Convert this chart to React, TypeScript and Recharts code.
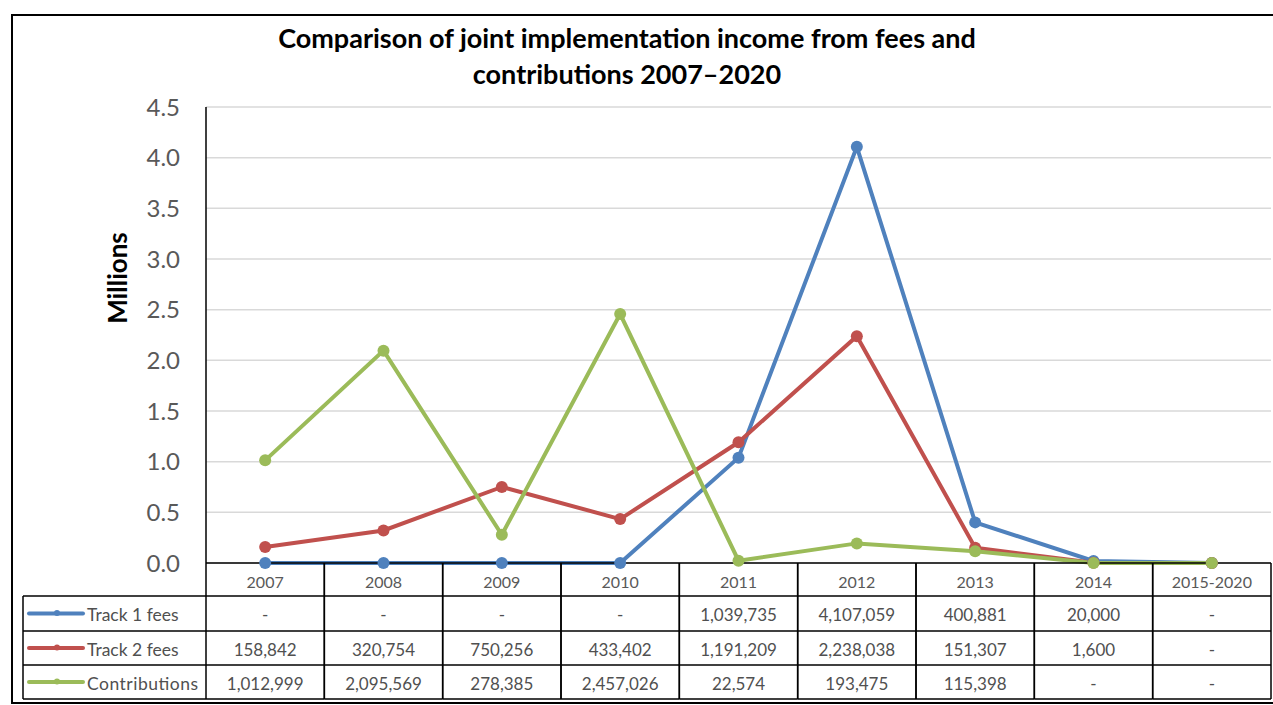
import { CartesianGrid, Line, LineChart, XAxis, YAxis } from "recharts";

const years = ["2007", "2008", "2009", "2010", "2011", "2012", "2013", "2014", "2015-2020"];
const trackOneFees = [0, 0, 0, 0, 1039735, 4107059, 400881, 20000, 0];
const trackTwoFees = [158842, 320754, 750256, 433402, 1191209, 2238038, 151307, 1600, 0];
const contributions = [1012999, 2095569, 278385, 2457026, 22574, 193475, 115398, 0, 0];
const seriesNames = ["Track 1 fees", "Track 2 fees", "Contributions"];
const seriesColors = ["#4F81BD", "#C0504D", "#9BBB59"];
const yTicks = [0, 0.5, 1, 1.5, 2, 2.5, 3, 3.5, 4, 4.5];

const seriesValues = [trackOneFees, trackTwoFees, contributions];
const seriesKeys = ["t1", "t2", "contrib"];

const data = years.map((year, i) => ({
  year,
  t1: trackOneFees[i] / 1e6,
  t2: trackTwoFees[i] / 1e6,
  contrib: contributions[i] / 1e6,
}));

// layout
const W = 1273;
const H = 705;
const PLOT_LEFT = 206;
const PLOT_RIGHT = 1271;
const PLOT_TOP = 107;
const AXIS_Y = 563;
const ROW_LINES = [596, 631, 665, 699];
const TABLE_LEFT = 23;
const COL_W = (PLOT_RIGHT - PLOT_LEFT) / years.length;
const FONT = "Lato, 'Open Sans', sans-serif";
const TEXT = "#505050";

const fmt = (v: number) => (v === 0 ? "-" : v.toLocaleString("en-US"));

function TableTick(props: any) {
  const { x, payload } = props;
  const i = years.indexOf(payload.value);
  const left = x - COL_W / 2;
  const right = x + COL_W / 2;
  return (
    <g>
      <line x1={left} x2={left} y1={AXIS_Y} y2={ROW_LINES[3]} stroke="#000" strokeWidth={1.5} />
      <line x1={right} x2={right} y1={AXIS_Y} y2={ROW_LINES[3]} stroke="#000" strokeWidth={1.5} />
      {ROW_LINES.map((y) => (
        <line key={y} x1={left} x2={right} y1={y} y2={y} stroke="#000" strokeWidth={1.5} />
      ))}
      <text x={x} y={(AXIS_Y + ROW_LINES[0]) / 2 + 2} textAnchor="middle" dominantBaseline="central" fontSize={16} fill="#595959" fontFamily={FONT}>
        {payload.value}
      </text>
      {seriesValues.map((vals, k) => (
        <text
          key={k}
          x={x}
          y={(ROW_LINES[k] + ROW_LINES[k + 1]) / 2 + 1}
          textAnchor="middle"
          dominantBaseline="central"
          fontSize={17}
          fill={TEXT}
          fontFamily={FONT}
        >
          {fmt(vals[i])}
        </text>
      ))}
    </g>
  );
}

export default function App() {
  return (
    <div style={{ position: "absolute", left: 0, top: 0, width: W, height: H, background: "#fff", fontFamily: FONT, overflow: "hidden" }}>
      <LineChart
        width={W}
        height={H}
        data={data}
        margin={{ top: PLOT_TOP, right: W - PLOT_RIGHT, bottom: 4, left: 0 }}
      >
        <CartesianGrid vertical={false} stroke="#d9d9d9" strokeWidth={1.5} />
        <XAxis
          dataKey="year"
          scale="band"
          height={H - 4 - AXIS_Y}
          axisLine={{ stroke: "#000", strokeWidth: 1.5 }}
          tickLine={false}
          interval={0}
          tick={<TableTick />}
        />
        <YAxis
          width={PLOT_LEFT}
          domain={[0, 4.5]}
          ticks={yTicks}
          tickFormatter={(v) => Number(v).toFixed(1)}
          axisLine={{ stroke: "#000", strokeWidth: 1.5 }}
          tickLine={false}
          tickMargin={20}
          tick={{ fontSize: 24, fill: "#595959", fontFamily: FONT }}
        />
        {seriesKeys.map((key, k) => (
          <Line
            key={key}
            dataKey={key}
            name={seriesNames[k]}
            stroke={seriesColors[k]}
            strokeWidth={4}
            dot={{ r: 6, fill: seriesColors[k], stroke: seriesColors[k], strokeWidth: 0 }}
            activeDot={false}
            isAnimationActive={false}
          />
        ))}
      </LineChart>

      <svg width={W} height={H} style={{ position: "absolute", left: 0, top: 0, pointerEvents: "none" }}>
        {/* outer frame */}
        <rect x={12} y={15} width={W} height={688} fill="none" stroke="#000" strokeWidth={2} />
        {/* title */}
        <text x={627} y={37} textAnchor="middle" dominantBaseline="central" fontSize={27} fontWeight={700} fill="#000" fontFamily={FONT}>
          Comparison of joint implementation income from fees and
        </text>
        <text x={627} y={73} textAnchor="middle" dominantBaseline="central" fontSize={27} fontWeight={700} fill="#000" fontFamily={FONT}>
          contributions 2007–2020
        </text>
        {/* y axis title */}
        <text
          x={117}
          y={278}
          transform="rotate(-90 117 278)"
          textAnchor="middle"
          dominantBaseline="central"
          fontSize={26}
          fontWeight={700}
          fill="#000"
          fontFamily={FONT}
        >
          Millions
        </text>
        {/* legend column of the data table */}
        <line x1={TABLE_LEFT} x2={TABLE_LEFT} y1={ROW_LINES[0]} y2={ROW_LINES[3]} stroke="#000" strokeWidth={1.5} />
        {ROW_LINES.map((y) => (
          <line key={y} x1={TABLE_LEFT} x2={PLOT_LEFT} y1={y} y2={y} stroke="#000" strokeWidth={1.5} />
        ))}
        {seriesNames.map((name, k) => {
          const cy = (ROW_LINES[k] + ROW_LINES[k + 1]) / 2;
          return (
            <g key={name}>
              <line x1={29} x2={83} y1={cy} y2={cy} stroke={seriesColors[k]} strokeWidth={4} strokeLinecap="round" />
              <circle cx={57} cy={cy - 0.5} r={3} fill={seriesColors[k]} />
              <text x={87} y={cy + 1} dominantBaseline="central" fontSize={17.5} fill={TEXT} fontFamily={FONT} textLength={name === "Contributions" ? 111 : undefined}>
                {name}
              </text>
            </g>
          );
        })}
      </svg>
    </div>
  );
}
